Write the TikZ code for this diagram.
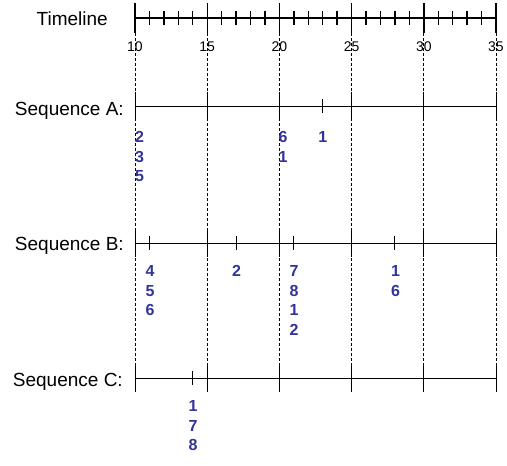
\documentclass[tikz,border=0pt]{standalone}
\usepackage{fontspec}
\setmainfont{Liberation Sans}
\usetikzlibrary{calc,positioning}
\definecolor{evBlue}{RGB}{51,51,153}
\newcommand{\tx}[1]{135+(#1-10)*14.44}

\tikzset{
  seqlabel/.style={anchor=base east,inner sep=0pt,font=\fontsize{19}{21}\selectfont},
  ticklabel/.style={anchor=base,inner sep=0pt,font=\fontsize{14}{16}\selectfont},
  evstack/.style={anchor=north,inner sep=0pt,align=center,text=evBlue,font=\bfseries\fontsize{16}{19.5}\selectfont},
  axisline/.style={line width=1.4pt},
  seqline/.style={line width=0.9pt},
  gridline/.style={line width=0.8pt,dash pattern=on 3pt off 2pt},
}

\begin{document}
\begin{tikzpicture}[x=1pt,y=-1pt]
\useasboundingbox (0,0) rectangle (507,466);

% timeline
\node (tl) [seqlabel] at (108,25) {Timeline};
\coordinate (T10) at ({\tx{10}},18);
\coordinate (T35) at ({\tx{35}},18);
\draw[axisline] (T10) -- (T35);
\foreach \v in {11,...,34}
  \draw[axisline] ({\tx{\v}},11) -- ({\tx{\v}},25);
\foreach \v in {10,15,...,35}{
  \node (lab\v) [ticklabel] at ({\tx{\v}},51) {\v};
  \draw[axisline] ({\tx{\v}},3) -- ({\tx{\v}},33);
  \draw[gridline] ({\tx{\v}},33) -- ({\tx{\v}},378);
}

% sequence lines
\foreach \s/\yy in {A/106,B/243,C/378}{
  \coordinate (\s0) at ({\tx{10}},\yy);
  \coordinate (\s1) at ({\tx{35}},\yy);
  \draw[seqline] (\s0) -- (\s1);
  \foreach \v in {10,15,...,35}
    \draw[seqline] ({\tx{\v}},\yy-14) -- ({\tx{\v}},\yy+14);
}
\node (seqA) [seqlabel] at (124,115) {Sequence A:};
\node (seqB) [seqlabel] at (124,250) {Sequence B:};
\node (seqC) [seqlabel] at (123,386) {Sequence C:};

% event ticks
\foreach \s/\yy/\v in {A/106/23,B/243/11,B/243/17,B/243/21,B/243/28,C/378/14}
  \draw[seqline] ({\tx{\v}},\yy-7) -- ({\tx{\v}},\yy+7);

% events
\node (evA10) [evstack] at (139.5,131.5) {2\\3\\5};
\node (evA20) [evstack] at (283,131.5) {6\\1};
\node (evA23) [evstack] at ({\tx{23}},131.5) {1};
\node (evB11) [evstack] at (150,265.5) {4\\5\\6};
\node (evB17) [evstack] at (236.5,265.5) {2};
\node (evB21) [evstack] at (294,265.5) {7\\8\\1\\2};
\node (evB28) [evstack] at (395.5,265.5) {1\\6};
\node (evC14) [evstack] at (193,400.5) {1\\7\\8};
\end{tikzpicture}
\end{document}
